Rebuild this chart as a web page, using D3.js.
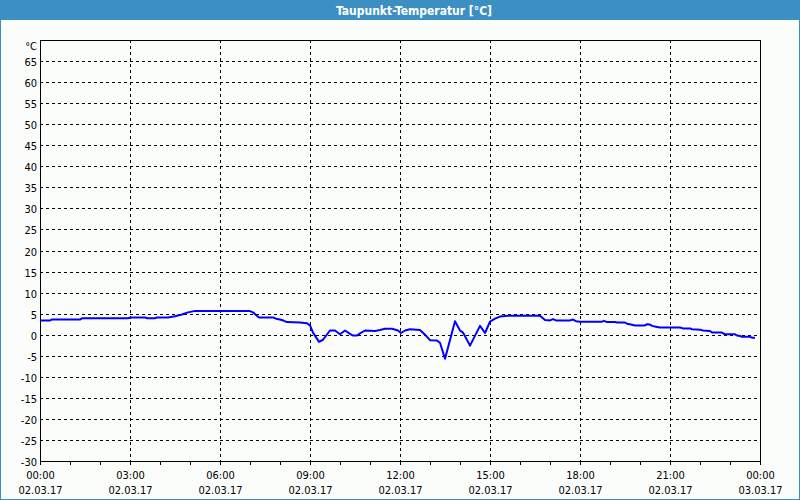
<!DOCTYPE html>
<html><head><meta charset="utf-8">
<script src="https://cdn.jsdelivr.net/npm/d3@7"></script>
<style>
html,body{margin:0;padding:0;background:#fbfdfb;}
svg{display:block;}
</style></head>
<body>
<script>
const title = "Taupunkt-Temperatur [°C]";
const unitLabel = "°C";
const times = ["00:00","00:20","00:24","01:20","01:24","02:56","03:02","03:30","03:34","03:50","03:54","04:16","04:30","04:44","04:56","05:08","07:00","07:06","07:12","07:18","07:46","07:52","08:00","08:08","08:14","08:40","08:54","09:00","09:06","09:18","09:26","09:40","09:50","10:00","10:10","10:20","10:26","10:34","10:40","10:50","11:10","11:20","11:30","11:44","11:56","12:02","12:10","12:20","12:40","12:50","13:00","13:14","13:20","13:30","13:50","14:00","14:06","14:20","14:40","14:50","15:00","15:10","15:20","15:36","16:40","16:50","17:00","17:06","17:12","17:40","17:46","17:52","18:00","18:44","18:48","18:54","19:10","19:14","19:30","19:34","19:42","19:50","20:10","20:14","20:20","20:24","20:32","20:40","21:20","21:26","21:40","21:44","22:00","22:06","22:20","22:24","22:44","22:50","23:10","23:14","23:20","23:24","23:40","23:44","23:50"];
const values = [3.4,3.4,3.6,3.6,3.9,3.9,4.1,4.1,3.9,3.9,4.1,4.1,4.4,4.8,5.3,5.6,5.6,5.3,4.7,4.1,4.1,3.8,3.6,3.3,3.0,2.9,2.7,2.2,0.5,-1.7,-1.2,1.0,1.0,0.1,1.0,0.2,-0.2,-0.2,0.3,1.0,0.9,1.1,1.4,1.4,1.0,0.4,1.0,1.3,1.1,0.0,-1.3,-1.4,-1.9,-5.7,3.2,1.0,0.5,-2.6,2.1,0.4,3.1,3.8,4.3,4.5,4.5,3.5,3.4,3.7,3.4,3.4,3.6,3.2,3.1,3.1,3.3,3.0,3.0,2.9,2.9,2.6,2.4,2.2,2.2,2.5,2.4,2.1,1.9,1.7,1.7,1.5,1.5,1.3,1.2,1.0,0.9,0.5,0.5,0.1,0.1,-0.2,-0.3,-0.5,-0.5,-0.7,-0.7];
const yTicks = [-30,-25,-20,-15,-10,-5,0,5,10,15,20,25,30,35,40,45,50,55,60,65];
const yDomain = [-30, 70];
const startDate = new Date(2017, 2, 2, 0, 0);
const endDate = new Date(2017, 2, 3, 0, 0);

const W = 800, H = 500;
const m = {left: 40, right: 760, top: 40, bottom: 461};
const svg = d3.select("body").append("svg").attr("width", W).attr("height", H);

// frame
svg.append("rect").attr("x",0.5).attr("y",0.5).attr("width",W-1).attr("height",H-1)
  .attr("fill","#fbfdfb").attr("stroke","#3c8fc3");
svg.append("rect").attr("x",0).attr("y",0).attr("width",W).attr("height",20).attr("fill","#3c8fc3");
svg.append("text").attr("x",414).attr("y",14.5).attr("text-anchor","middle")
  .attr("font-family","'DejaVu Sans Condensed','Liberation Sans',sans-serif").attr("font-weight","bold")
  .attr("font-size","12px").attr("fill","#ffffff").text(title);

const x = d3.scaleTime().domain([startDate, endDate]).range([m.left, m.right]);
const y = d3.scaleLinear().domain(yDomain).range([m.bottom, m.top]);

const parseT = t => { const [h, mi] = t.split(":").map(Number); return new Date(2017, 2, 2, h, mi); };
const data = times.map((t, i) => ({t: parseT(t), v: values[i]}));

const font = "'DejaVu Sans Condensed','Liberation Sans',sans-serif";
const g = svg.append("g");

// horizontal grid
g.selectAll("line.hg").data(yTicks.filter(v => v > yDomain[0])).enter().append("line")
  .attr("x1", m.left).attr("x2", m.right)
  .attr("y1", d => Math.round(y(d)) + 0.5).attr("y2", d => Math.round(y(d)) + 0.5)
  .attr("stroke", "#000").attr("stroke-dasharray", "3,3");

// vertical grid every 3h
const majorTicks = d3.timeHour.every(3).range(startDate, d3.timeMinute.offset(endDate, 1));
g.selectAll("line.vg").data(majorTicks.filter(d => d > startDate && d < endDate)).enter().append("line")
  .attr("x1", d => Math.round(x(d)) + 0.5).attr("x2", d => Math.round(x(d)) + 0.5)
  .attr("y1", m.top).attr("y2", m.bottom)
  .attr("stroke", "#000").attr("stroke-dasharray", "3,3");

// plot border
g.append("rect").attr("x", m.left + 0.5).attr("y", m.top + 0.5)
  .attr("width", m.right - m.left).attr("height", m.bottom - m.top)
  .attr("fill", "none").attr("stroke", "#000");

// minor ticks every hour
const hourTicks = d3.timeHour.every(1).range(startDate, d3.timeMinute.offset(endDate, 1));
g.selectAll("line.mt").data(hourTicks).enter().append("line")
  .attr("x1", d => Math.round(x(d)) + 0.5).attr("x2", d => Math.round(x(d)) + 0.5)
  .attr("y1", m.bottom).attr("y2", m.bottom + 4)
  .attr("stroke", "#000");

// y labels
g.selectAll("text.yl").data(yTicks).enter().append("text")
  .attr("x", 37).attr("y", d => Math.round(y(d)) + 4.5)
  .attr("text-anchor", "end").attr("font-family", font).attr("font-size", "11px").attr("fill", "#000")
  .text(d => d);
g.append("text").attr("x", 37).attr("y", 50).attr("text-anchor", "end")
  .attr("font-family", font).attr("font-size", "11px").attr("fill", "#000").text(unitLabel);

// x labels
const fT = d3.timeFormat("%H:%M"), fD = d3.timeFormat("%d.%m.%y");
const xl = g.selectAll("g.xl").data(majorTicks).enter().append("g");
xl.append("text").attr("x", d => x(d) + 0.5).attr("y", 479).attr("text-anchor", "middle")
  .attr("font-family", font).attr("font-size", "11px").attr("fill", "#000").text(d => fT(d));
xl.append("text").attr("x", d => x(d) + 0.5).attr("y", 494).attr("text-anchor", "middle")
  .attr("font-family", font).attr("font-size", "11px").attr("fill", "#000").text(d => fD(d));

// data line
const line = d3.line().x(d => x(d.t)).y(d => y(d.v));
svg.append("path").datum(data).attr("d", line)
  .attr("fill", "none").attr("stroke", "#0000ff").attr("stroke-width", 2).attr("stroke-linejoin", "round");
</script>
</body></html>
